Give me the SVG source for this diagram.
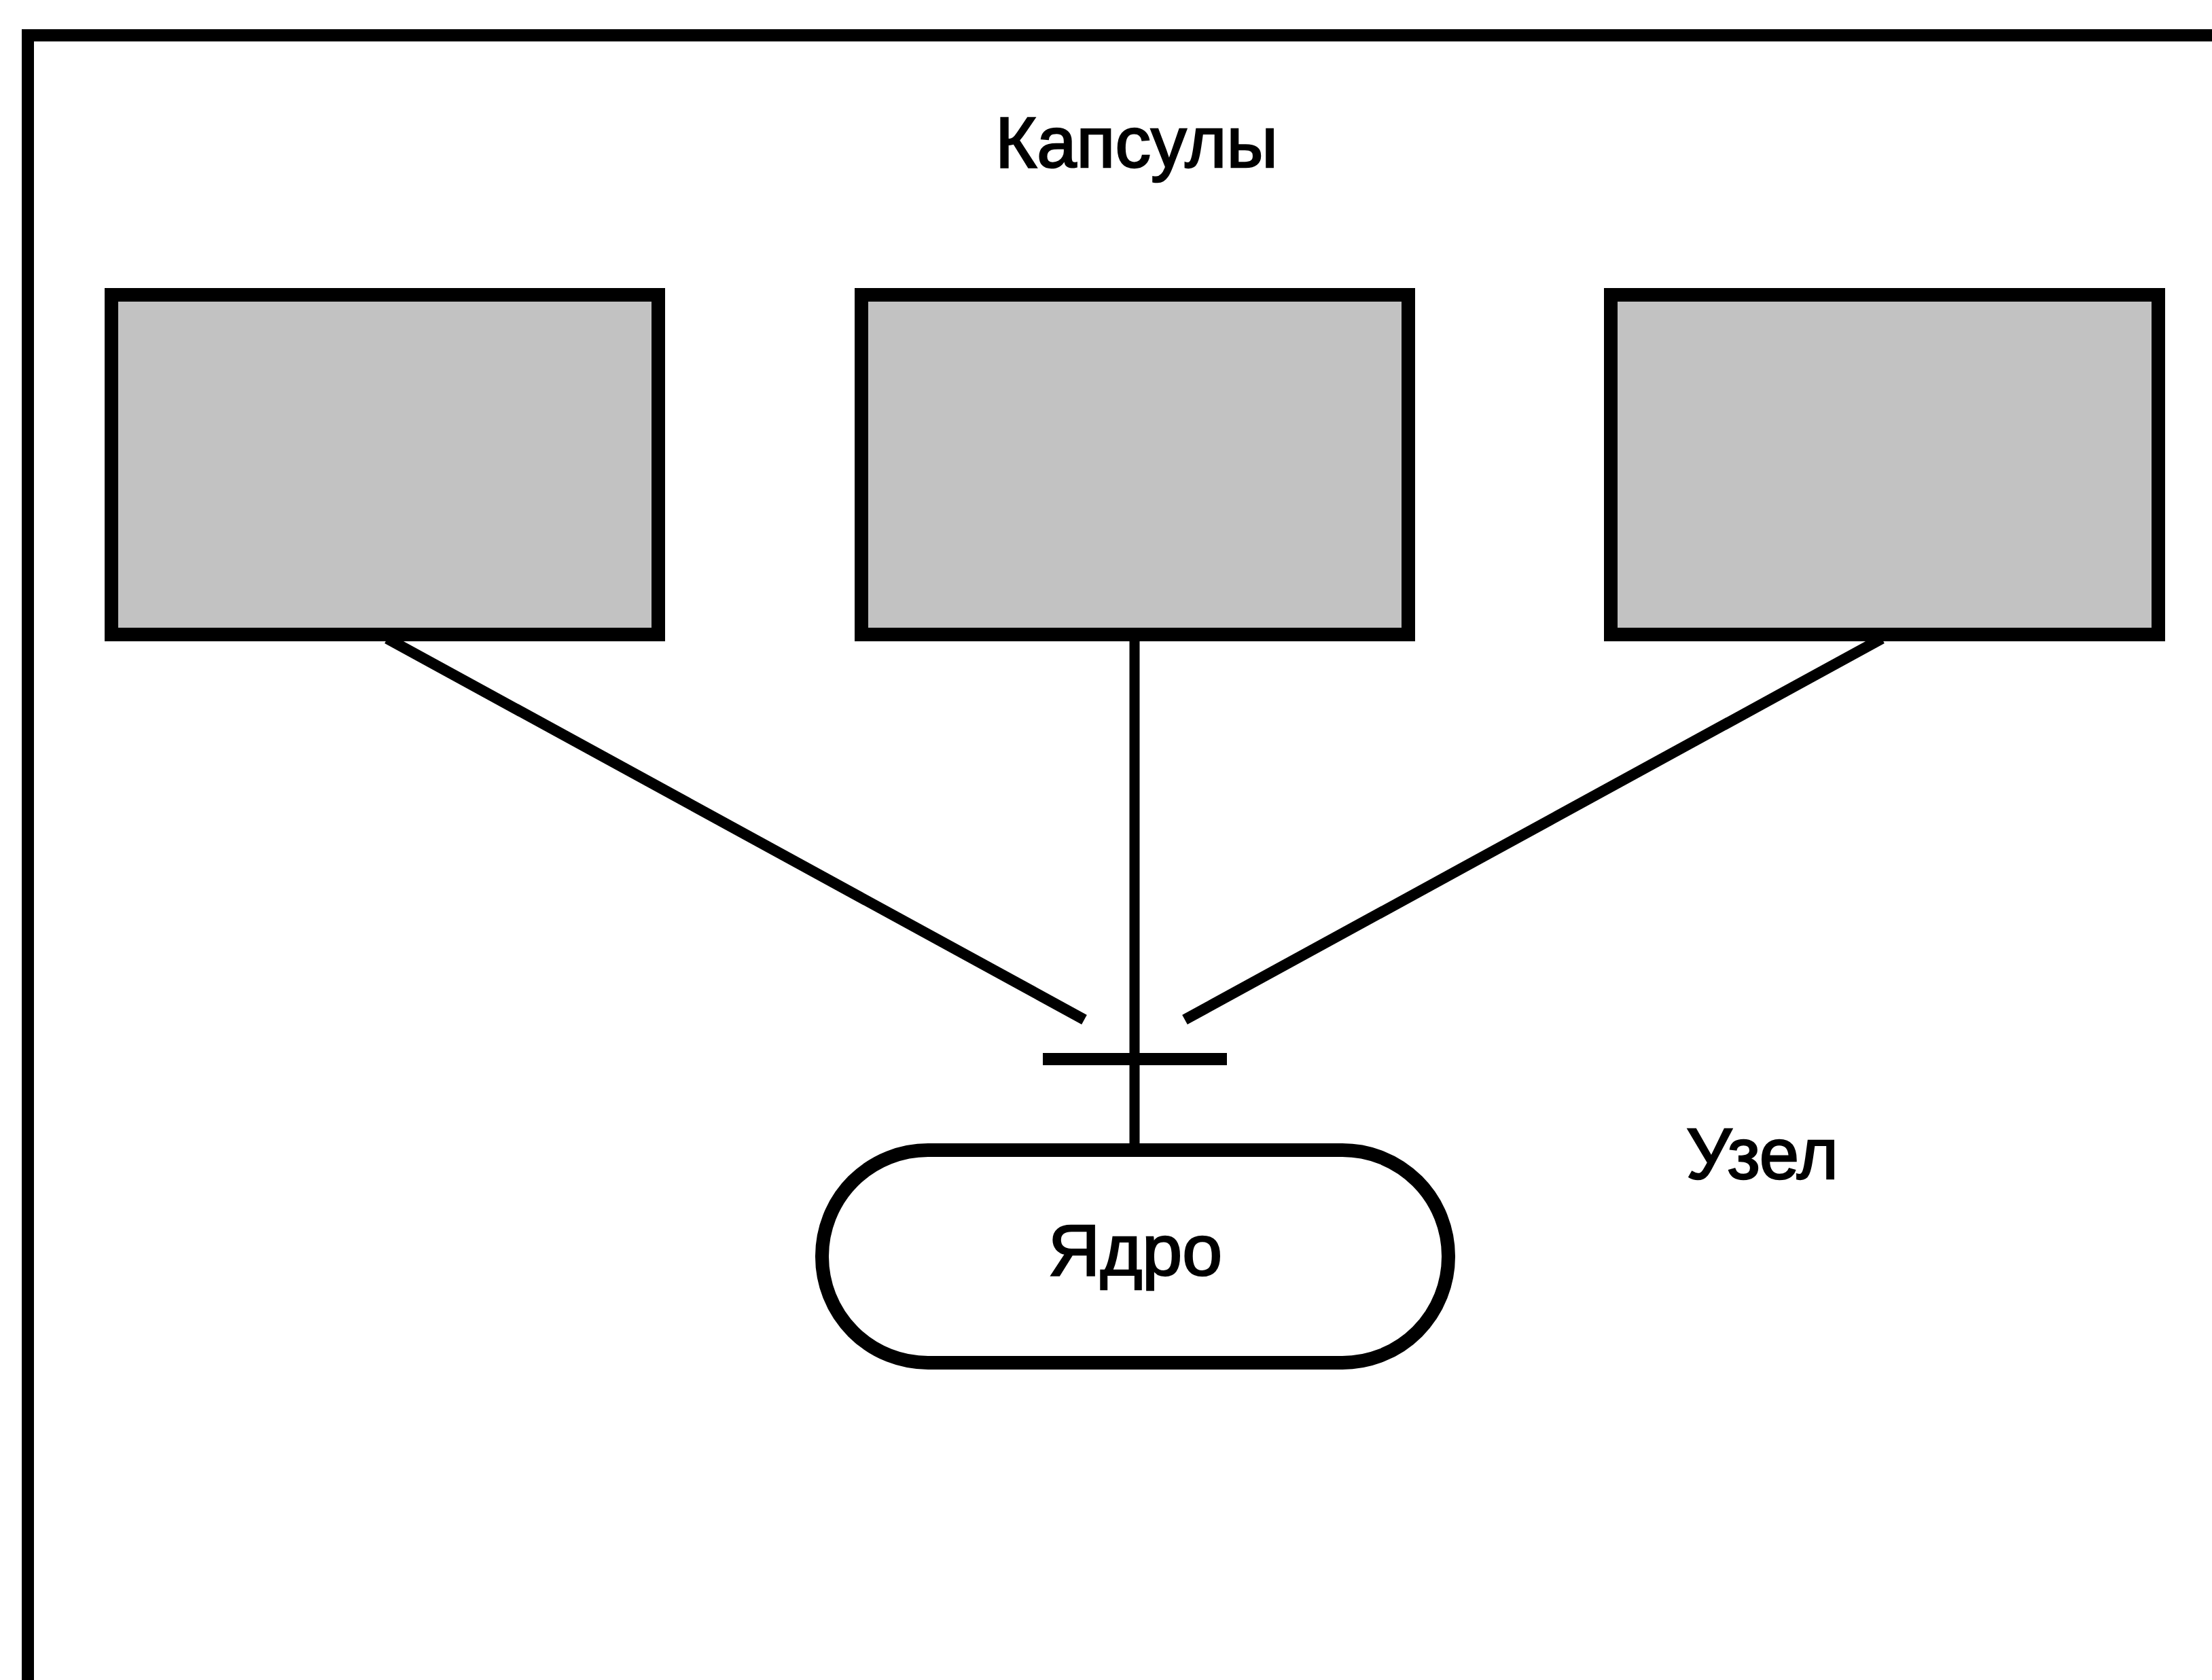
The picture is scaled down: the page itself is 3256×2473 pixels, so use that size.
<svg xmlns="http://www.w3.org/2000/svg" width="3256" height="2473" viewBox="0 0 3256 2473">
<style>
.frame{fill:none;stroke:#000;stroke-width:18}
.capsule{fill:#c2c2c2;stroke:#000;stroke-width:20}
.core{fill:#fff;stroke:#000;stroke-width:20}
.conn{stroke:#000;stroke-width:16;fill:none;stroke-linecap:butt}
.lbl{font-family:"Liberation Sans",Arial,sans-serif;font-size:105px;fill:#000;stroke:#000;stroke-width:2.5}
</style>
<rect width="3256" height="2473" fill="#fff"/>
<g id="frame">
<rect class="frame" x="41" y="52" width="3300" height="2500"/>
</g>
<g id="title"><text class="lbl" x="1673" y="246" text-anchor="middle">Капсулы</text></g>
<g id="node-label"><text class="lbl" x="2482" y="1735">Узел</text></g>
<g id="connectors">
<line class="conn" x1="570" y1="940" x2="1596" y2="1501"/>
<line class="conn" x1="2770" y1="940" x2="1744" y2="1501"/>
<line class="conn" x1="1670" y1="944" x2="1670" y2="1693" style="stroke-width:15"/>
<line class="conn" x1="1535" y1="1559" x2="1806" y2="1559" style="stroke-width:18"/>
</g>
<g id="capsule-1"><rect class="capsule" x="164" y="434" width="805" height="500"/></g>
<g id="capsule-2"><rect class="capsule" x="1268" y="434" width="805" height="500"/></g>
<g id="capsule-3"><rect class="capsule" x="2371" y="434" width="806" height="500"/></g>
<g id="core">
<rect class="core" x="1210" y="1693" width="922" height="313" rx="156" ry="156"/>
<text class="lbl" x="1671" y="1877" text-anchor="middle" style="font-size:106px">Ядро</text>
</g>
</svg>
